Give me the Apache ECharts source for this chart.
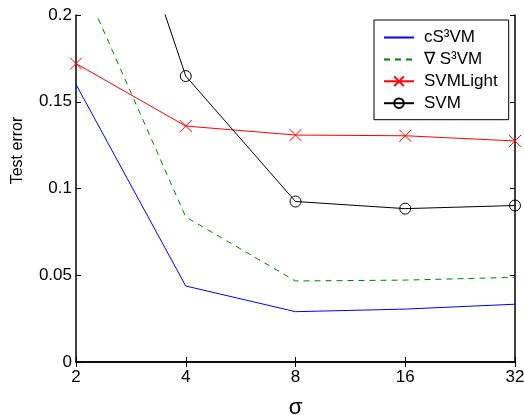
<!DOCTYPE html>
<html><head><meta charset="utf-8">
<script src="https://cdn.jsdelivr.net/npm/echarts@6/dist/echarts.min.js"></script>
<style>html,body{margin:0;padding:0;background:#fff}#c{width:524px;height:415px}</style>
</head><body><div id="c"></div>
<script>
var sigmaLabels = ['2', '4', '8', '16', '32'];
var yTicks = [0, 0.05, 0.1, 0.15, 0.2];
var seriesNames = ['cS³VM', '∇ S³VM', 'SVMLight', 'SVM'];
var cS3VM = [0.160, 0.0438, 0.0290, 0.0305, 0.0333];
var gradS3VM = [0.227, 0.0836, 0.0467, 0.0472, 0.0488];
var svmLight = [0.172, 0.136, 0.1308, 0.1304, 0.1274];
var svm = [0.353, 0.1648, 0.0925, 0.0884, 0.0902];

var FONT = 'Liberation Sans, Arial, sans-serif';
var chart = echarts.init(document.getElementById('c'), null, {renderer: 'canvas'});
var axisLine = {show: true, lineStyle: {color: '#000', width: 1.5}};
var tick = {show: true, inside: true, length: 5, lineStyle: {color: '#000', width: 1}};
chart.setOption({
  animation: false,
  backgroundColor: '#fff',
  grid: {left: 76, right: 9, top: 15, bottom: 53, containLabel: false, outerBoundsMode: 'none'},
  legend: {
    orient: 'vertical', left: 374, top: 20,
    data: [
      {name: seriesNames[0], itemStyle: {opacity: 0}},
      {name: seriesNames[1], itemStyle: {opacity: 0}},
      {name: seriesNames[2]},
      {name: seriesNames[3]}
    ],
    backgroundColor: '#fff', borderColor: '#000', borderWidth: 1,
    padding: [9, 11, 8, 9],
    itemWidth: 30, itemHeight: 12, itemGap: 4.9,
    textStyle: {fontFamily: FONT, fontSize: 17, color: '#000', padding: [0, 0, 0, 5], lineHeight: 17}
  },
  xAxis: [{
    type: 'category', data: sigmaLabels, boundaryGap: false, position: 'bottom',
    name: 'σ', nameLocation: 'middle', nameGap: 35,
    nameTextStyle: {fontFamily: FONT, fontSize: 22, color: '#000'},
    axisLine: axisLine, axisTick: tick,
    axisLabel: {fontFamily: FONT, fontSize: 17, color: '#000', margin: 7},
    splitLine: {show: false}
  }, {
    type: 'category', data: sigmaLabels, boundaryGap: false, position: 'top',
    axisLine: axisLine, axisTick: tick, axisLabel: {show: false}, splitLine: {show: false}
  }],
  yAxis: [{
    type: 'value', min: yTicks[0], max: yTicks[yTicks.length - 1], interval: 0.05, position: 'left',
    name: 'Test error', nameLocation: 'middle', nameGap: 50, nameRotate: 90,
    nameTextStyle: {fontFamily: FONT, fontSize: 16, color: '#000', padding: [0, 0, 0, 76]},
    axisLine: axisLine, axisTick: tick,
    axisLabel: {fontFamily: FONT, fontSize: 17, color: '#000', margin: 4},
    splitLine: {show: false}
  }, {
    type: 'value', min: yTicks[0], max: yTicks[yTicks.length - 1], interval: 0.05, position: 'right',
    axisLine: axisLine, axisTick: tick, axisLabel: {show: false}, splitLine: {show: false}
  }],
  series: [{
    name: seriesNames[0], type: 'line', data: cS3VM, symbol: 'none', clip: true,
    lineStyle: {color: '#0000ff', width: 1}, itemStyle: {color: '#0000ff'}
  }, {
    name: seriesNames[1], type: 'line', data: gradS3VM, symbol: 'none', clip: true,
    lineStyle: {color: '#008000', width: 1, type: [6, 5]}, itemStyle: {color: '#008000'}
  }, {
    name: seriesNames[2], type: 'line', data: svmLight, clip: true,
    symbol: 'path://M0,0L10,10M10,0L0,10', symbolSize: 12,
    lineStyle: {color: '#ff0000', width: 1},
    itemStyle: {color: 'rgba(0,0,0,0)', borderColor: '#ff0000', borderWidth: 1}
  }, {
    name: seriesNames[3], type: 'line', data: svm, clip: true,
    symbol: 'circle', symbolSize: 11,
    lineStyle: {color: '#000', width: 1},
    itemStyle: {color: 'rgba(0,0,0,0)', borderColor: '#000', borderWidth: 1}
  }]
});
</script></body></html>
